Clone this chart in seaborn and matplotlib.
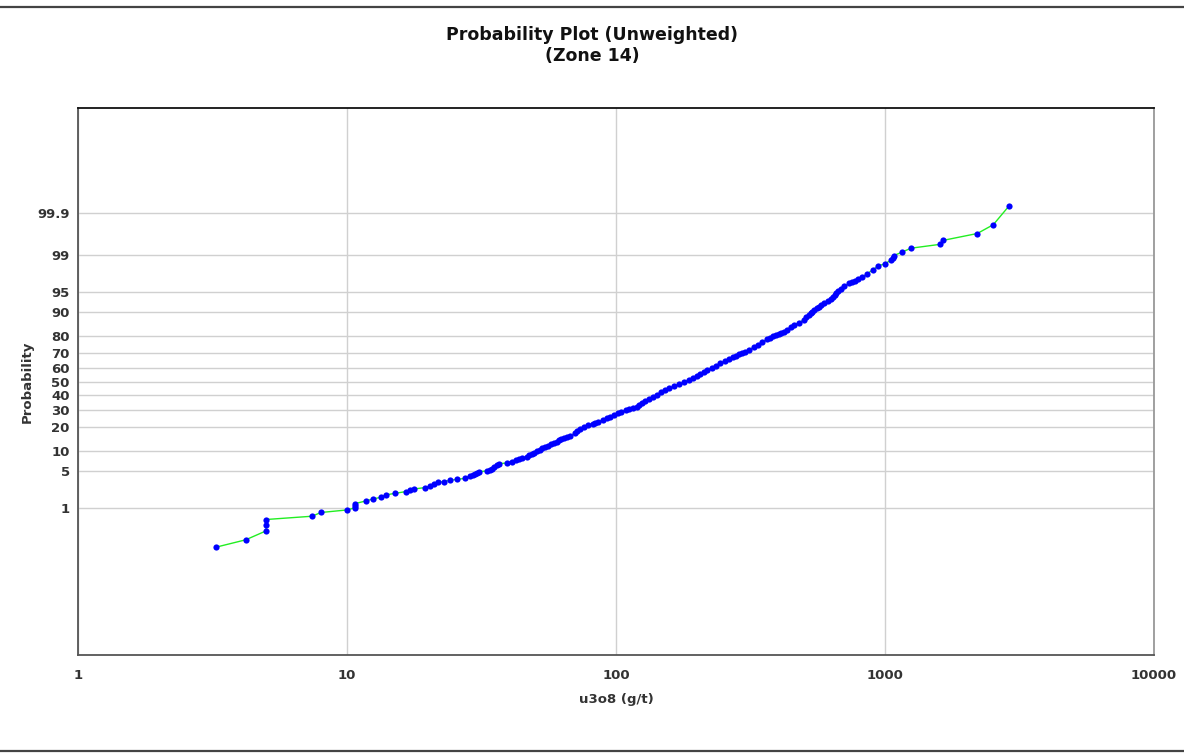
import math
import numpy as np
import pandas as pd
import matplotlib
matplotlib.use("Agg")
import matplotlib.pyplot as plt
from matplotlib.lines import Line2D
from matplotlib.ticker import FixedLocator, NullLocator, LogLocator, NullFormatter
import seaborn as sns

# ---- sample values (u3o8, g/t) and cumulative probability (%) ----
low_u3o8 = [3.26, 4.20, 5.0, 5.0, 5.0, 7.41, 8.0, 10.0, 10.7, 10.7, 10.7, 11.77,
            12.46, 13.38, 13.93, 15.12, 16.57, 17.15, 17.79, 19.55, 20.35, 21.05,
            21.85, 22.94, 24.15, 25.57, 27.54, 28.66, 29.3, 29.91, 30.5, 31.03,
            33.23, 33.9, 34.51, 35.3, 36.02, 36.83, 39.25, 40.97, 42.39, 43.6,
            44.85, 46.56, 47.5, 48.6, 49.7, 50.7]
low_prob = [0.118, 0.183, 0.305, 0.433, 0.565, 0.67, 0.81, 0.92, 1.02, 1.12, 1.25,
            1.42, 1.55, 1.68, 1.87, 2.01, 2.17, 2.30, 2.43, 2.58, 2.72, 2.96, 3.22,
            3.31, 3.49, 3.62, 3.78, 4.15, 4.35, 4.55, 4.72, 4.91, 5.03, 5.25, 5.49,
            5.85, 6.20, 6.59, 6.73, 7.07, 7.58, 7.8, 8.00, 8.39, 8.8, 9.27, 9.6, 10.0]

mid_u3o8 = [52.0, 53.1, 54.5, 56.0, 57.5, 58.9, 60.1, 61.4, 62.6, 63.9, 65.7, 67.7,
            70.3, 71.9, 73.5, 76.1, 78.6, 81.8, 83.8, 85.8, 89.2, 92.2, 95.3, 98.3,
            101.4, 104.7, 109.0, 112.2, 116.1, 119.6, 121.3, 124.9, 128.6, 132.8,
            137.4, 142.1, 147.0, 152.0, 158.0, 164.6, 171.6, 179.4, 186.4, 193.1,
            200.0, 206.1, 212.2, 218.8, 226.9, 235.2, 244.0, 253.3, 263.1, 273.4,
            279.8, 286.5, 293.5, 300.6, 312.9, 324.7, 337.2, 350.0, 363.9, 373.7,
            384.0, 392.7, 401.9, 411.6, 420.2, 432.6, 445.8, 460.5, 478.6, 497.8,
            509.0, 521.8, 529.0, 537.6, 546.9, 556.4, 566.9, 579.1, 594.6, 611.7,
            627.8, 639.2, 649.1, 659.2, 670.6, 684.4, 706.9, 735.3, 752.6, 771.5,
            794.3, 820.0, 859.4, 902.4, 942.6]
mid_prob = [10.5, 11, 11.5, 12, 12.5, 13, 13.5, 14, 14.5, 15, 15.5, 16,
            17, 18, 19, 20, 21, 22, 22.5, 23, 24, 25, 26, 27,
            28, 29, 30, 30.75, 31.5, 32.25, 33, 34.5, 36, 37.5,
            39, 40.5, 42, 43.5, 45, 46.5, 48, 49.5, 51, 52.5,
            54, 55.5, 57, 58.5, 60, 61.5, 63, 64.5, 66, 67.5,
            68.25, 69, 69.75, 70.5, 72, 73.5, 75, 76.5, 78, 79,
            80, 80.5, 81, 81.5, 82, 83, 84, 85, 86, 87,
            88, 89, 89.5, 90, 90.5, 91, 91.5, 92, 92.5, 93,
            93.5, 94, 94.4, 94.8, 95.2, 95.6, 96, 96.4, 96.6, 96.8,
            97.0, 97.2, 97.6, 98.0, 98.3]

high_u3o8 = [1000, 1050, 1068, 1080, 1154, 1250, 1605, 1643, 2203, 2527, 2884]
high_prob = [98.47, 98.69, 98.83, 98.96, 99.12, 99.28, 99.41, 99.52, 99.67, 99.80, 99.935]

prob_ticks = [1, 5, 10, 20, 30, 40, 50, 60, 70, 80, 90, 95, 99, 99.9]
prob_tick_labels = ["1", "5", "10", "20", "30", "40", "50", "60", "70", "80",
                    "90", "95", "99", "99.9"]
x_ticks = [1, 10, 100, 1000, 10000]
x_tick_labels = ["1", "10", "100", "1000", "10000"]

df = pd.DataFrame({
    "u3o8": low_u3o8 + mid_u3o8 + high_u3o8,
    "prob": low_prob + mid_prob + high_prob,
})

# ---- normal probability (probit) scale for the y axis ----
_erfc = np.vectorize(math.erfc, otypes=[float])

_A = [-3.969683028665376e+01, 2.209460984245205e+02, -2.759285104469687e+02,
      1.383577518672690e+02, -3.066479806614716e+01, 2.506628277459239e+00]
_B = [-5.447609879822406e+01, 1.615858368580409e+02, -1.556989798598866e+02,
      6.680131188771972e+01, -1.328068155288572e+01]
_C = [-7.784894002430293e-03, -3.223964580411365e-01, -2.400758277161838e+00,
      -2.549671348451658e+00, 4.374664141464968e+00, 2.938163982698783e+00]
_D = [7.784695709041462e-03, 3.224671290700398e-01, 2.445134137142996e+00,
      3.754408661907416e+00]


def _ppf(p):
    p = np.asarray(p, dtype=float)
    out = np.empty_like(p)
    plow = 0.02425
    lo = p < plow
    hi = p > 1 - plow
    md = ~(lo | hi)
    if np.any(lo):
        q = np.sqrt(-2 * np.log(p[lo]))
        out[lo] = ((((((_C[0] * q + _C[1]) * q + _C[2]) * q + _C[3]) * q + _C[4]) * q + _C[5])
                   / ((((_D[0] * q + _D[1]) * q + _D[2]) * q + _D[3]) * q + 1))
    if np.any(hi):
        q = np.sqrt(-2 * np.log(1 - p[hi]))
        out[hi] = -((((((_C[0] * q + _C[1]) * q + _C[2]) * q + _C[3]) * q + _C[4]) * q + _C[5])
                    / ((((_D[0] * q + _D[1]) * q + _D[2]) * q + _D[3]) * q + 1))
    if np.any(md):
        q = p[md] - 0.5
        r = q * q
        out[md] = ((((((_A[0] * r + _A[1]) * r + _A[2]) * r + _A[3]) * r + _A[4]) * r + _A[5]) * q
                   / (((((_B[0] * r + _B[1]) * r + _B[2]) * r + _B[3]) * r + _B[4]) * r + 1))
    # one Newton/Halley refinement step
    if out.size:
        e = 0.5 * _erfc(-out / np.sqrt(2)) - p
        u = e * np.sqrt(2 * np.pi) * np.exp(out * out / 2)
        out = out - u / (1 + out * u / 2)
    return out


def probit_pct(pct):
    pct = np.asarray(pct, dtype=float)
    p = np.clip(pct / 100.0, 1e-12, 1 - 1e-12)
    return _ppf(p)


def inv_probit_pct(z):
    z = np.asarray(z, dtype=float)
    return 50.0 * _erfc(-z / np.sqrt(2))


# ---- figure ----
sns.set_style("white")
plt.rcParams["font.family"] = ["DejaVu Sans"]

fig = plt.figure(figsize=(11.84, 7.54), dpi=100)
ax = fig.add_axes([78 / 1184, 1 - 655 / 754, (1154 - 78) / 1184, (655 - 108) / 754])

ax.set_xscale("log")
ax.set_yscale("function", functions=(probit_pct, inv_probit_pct))

sns.lineplot(data=df, x="u3o8", y="prob", sort=False, estimator=None,
             color="#22ee22", linewidth=1.0, ax=ax, zorder=2)
sns.scatterplot(data=df, x="u3o8", y="prob", color="#0000ff", s=20,
                linewidth=0, ax=ax, zorder=3)

ax.set_xlim(1, 10000)
ax.set_ylim(float(inv_probit_pct(-5.02)), float(inv_probit_pct(5.02)))

ax.xaxis.set_major_locator(FixedLocator(x_ticks))
ax.set_xticklabels(x_tick_labels)
ax.xaxis.set_minor_locator(LogLocator(base=10, subs=np.arange(2, 10)))
ax.xaxis.set_minor_formatter(NullFormatter())

ax.yaxis.set_major_locator(FixedLocator(prob_ticks))
ax.set_yticklabels(prob_tick_labels)
ax.yaxis.set_minor_locator(NullLocator())

ax.grid(True, which="major", color="#d0d0d0", linewidth=1.0)
ax.grid(False, which="minor")
ax.set_axisbelow(True)

ax.tick_params(axis="both", which="major", direction="out", length=4, width=1,
               color="#555555", labelcolor="#333333", labelsize=9.5)
ax.tick_params(axis="x", which="major", pad=6)
ax.tick_params(axis="y", which="major", pad=2)
ax.tick_params(axis="x", which="minor", direction="out", length=3, width=1,
               color="#555555")
for lab in ax.get_xticklabels() + ax.get_yticklabels():
    lab.set_fontweight("bold")

ax.spines["top"].set_color("#111111")
ax.spines["left"].set_color("#555555")
ax.spines["bottom"].set_color("#555555")
ax.spines["right"].set_color("#999999")
for s in ax.spines.values():
    s.set_linewidth(1.3)
    s.set_visible(True)

ax.set_xlabel("u3o8 (g/t)", fontsize=9.5, fontweight="bold", color="#333333", labelpad=8)
ax.set_ylabel("Probability", fontsize=9.5, fontweight="bold", color="#333333")
ax.yaxis.set_label_coords(-0.0415, 0.5)

fig.text(0.5, 1 - 45.5 / 754, "Probability Plot (Unweighted)\n(Zone 14)",
         ha="center", va="center", fontsize=12.5, fontweight="bold",
         color="#111111", linespacing=1.2)

# frame rules across the full width of the figure
for yf in (1 - 7 / 754, 1 - 751 / 754):
    fig.add_artist(Line2D([0, 1], [yf, yf], transform=fig.transFigure,
                          color="#444444", linewidth=1.6))

fig.savefig("out.png", dpi=100)
